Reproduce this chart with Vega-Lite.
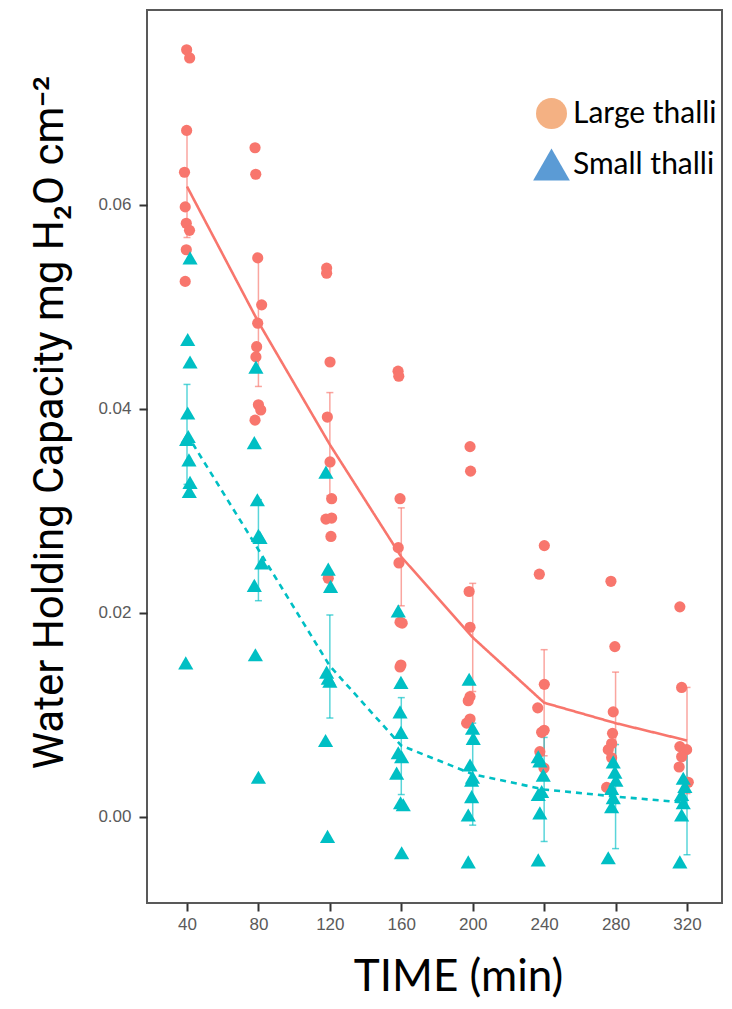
{
  "$schema": "https://vega.github.io/schema/vega-lite/v6.json",
  "width": 575,
  "height": 893,
  "autosize": "none",
  "padding": {"left": 147, "top": 10, "right": 10, "bottom": 106},
  "background": "white",
  "config": {
    "view": {"stroke": "#595959", "strokeWidth": 2},
    "axis": {
      "grid": false,
      "domain": false,
      "tickColor": "#333333",
      "tickSize": 8,
      "tickWidth": 2,
      "labelFont": "Liberation Sans",
      "labelFontSize": 17,
      "labelColor": "#5a5a5a",
      "titleFontWeight": "normal",
      "titleColor": "black"
    }
  },
  "datasets": {
    "pts": [
      {"g": "Large thalli", "t": 39.8, "v": 0.0752},
      {"g": "Large thalli", "t": 41.5, "v": 0.0744},
      {"g": "Large thalli", "t": 39.8, "v": 0.0673},
      {"g": "Large thalli", "t": 38.6, "v": 0.0632},
      {"g": "Large thalli", "t": 39.0, "v": 0.0598},
      {"g": "Large thalli", "t": 39.6, "v": 0.0582},
      {"g": "Large thalli", "t": 41.4, "v": 0.0575},
      {"g": "Large thalli", "t": 39.6, "v": 0.0556},
      {"g": "Large thalli", "t": 39.0, "v": 0.0525},
      {"g": "Large thalli", "t": 78.1, "v": 0.0656},
      {"g": "Large thalli", "t": 78.5, "v": 0.0630},
      {"g": "Large thalli", "t": 79.6, "v": 0.0548},
      {"g": "Large thalli", "t": 81.8, "v": 0.0502},
      {"g": "Large thalli", "t": 79.6, "v": 0.0484},
      {"g": "Large thalli", "t": 79.0, "v": 0.0461},
      {"g": "Large thalli", "t": 78.6, "v": 0.0451},
      {"g": "Large thalli", "t": 80.0, "v": 0.0404},
      {"g": "Large thalli", "t": 81.3, "v": 0.0399},
      {"g": "Large thalli", "t": 78.1, "v": 0.0389},
      {"g": "Large thalli", "t": 118.2, "v": 0.0538},
      {"g": "Large thalli", "t": 118.2, "v": 0.0533},
      {"g": "Large thalli", "t": 120.1, "v": 0.0446},
      {"g": "Large thalli", "t": 118.6, "v": 0.0392},
      {"g": "Large thalli", "t": 120.1, "v": 0.0348},
      {"g": "Large thalli", "t": 121.0, "v": 0.0312},
      {"g": "Large thalli", "t": 117.8, "v": 0.0292},
      {"g": "Large thalli", "t": 121.0, "v": 0.0293},
      {"g": "Large thalli", "t": 120.6, "v": 0.0275},
      {"g": "Large thalli", "t": 119.1, "v": 0.0234},
      {"g": "Large thalli", "t": 158.2, "v": 0.0437},
      {"g": "Large thalli", "t": 158.6, "v": 0.0432},
      {"g": "Large thalli", "t": 159.3, "v": 0.0312},
      {"g": "Large thalli", "t": 158.3, "v": 0.0264},
      {"g": "Large thalli", "t": 158.7, "v": 0.0249},
      {"g": "Large thalli", "t": 159.3, "v": 0.0191},
      {"g": "Large thalli", "t": 160.5, "v": 0.0190},
      {"g": "Large thalli", "t": 159.8, "v": 0.0149},
      {"g": "Large thalli", "t": 159.3, "v": 0.0147},
      {"g": "Large thalli", "t": 198.5, "v": 0.0363},
      {"g": "Large thalli", "t": 198.8, "v": 0.0339},
      {"g": "Large thalli", "t": 198.0, "v": 0.0221},
      {"g": "Large thalli", "t": 198.5, "v": 0.0186},
      {"g": "Large thalli", "t": 198.5, "v": 0.0118},
      {"g": "Large thalli", "t": 197.5, "v": 0.0114},
      {"g": "Large thalli", "t": 198.5, "v": 0.0096},
      {"g": "Large thalli", "t": 196.6, "v": 0.0092},
      {"g": "Large thalli", "t": 240.1, "v": 0.0266},
      {"g": "Large thalli", "t": 237.3, "v": 0.0238},
      {"g": "Large thalli", "t": 240.1, "v": 0.0130},
      {"g": "Large thalli", "t": 236.4, "v": 0.0107},
      {"g": "Large thalli", "t": 238.6, "v": 0.0083},
      {"g": "Large thalli", "t": 240.0, "v": 0.0085},
      {"g": "Large thalli", "t": 237.6, "v": 0.0064},
      {"g": "Large thalli", "t": 239.9, "v": 0.0048},
      {"g": "Large thalli", "t": 277.4, "v": 0.0231},
      {"g": "Large thalli", "t": 279.6, "v": 0.0167},
      {"g": "Large thalli", "t": 278.7, "v": 0.0103},
      {"g": "Large thalli", "t": 278.3, "v": 0.0082},
      {"g": "Large thalli", "t": 277.8, "v": 0.0072},
      {"g": "Large thalli", "t": 275.9, "v": 0.0066},
      {"g": "Large thalli", "t": 277.8, "v": 0.0058},
      {"g": "Large thalli", "t": 275.0, "v": 0.0029},
      {"g": "Large thalli", "t": 316.0, "v": 0.0206},
      {"g": "Large thalli", "t": 317.0, "v": 0.0127},
      {"g": "Large thalli", "t": 316.0, "v": 0.0069},
      {"g": "Large thalli", "t": 319.8, "v": 0.0066},
      {"g": "Large thalli", "t": 317.0, "v": 0.0059},
      {"g": "Large thalli", "t": 315.6, "v": 0.0049},
      {"g": "Large thalli", "t": 320.7, "v": 0.0034},
      {"g": "Small thalli", "t": 41.7, "v": 0.0548},
      {"g": "Small thalli", "t": 40.4, "v": 0.0468},
      {"g": "Small thalli", "t": 41.7, "v": 0.0446},
      {"g": "Small thalli", "t": 40.4, "v": 0.0396},
      {"g": "Small thalli", "t": 40.7, "v": 0.0373},
      {"g": "Small thalli", "t": 39.8, "v": 0.0370},
      {"g": "Small thalli", "t": 41.1, "v": 0.0350},
      {"g": "Small thalli", "t": 41.7, "v": 0.0328},
      {"g": "Small thalli", "t": 41.3, "v": 0.0319},
      {"g": "Small thalli", "t": 39.3, "v": 0.0151},
      {"g": "Small thalli", "t": 78.6, "v": 0.0441},
      {"g": "Small thalli", "t": 77.7, "v": 0.0367},
      {"g": "Small thalli", "t": 79.4, "v": 0.0311},
      {"g": "Small thalli", "t": 80.0, "v": 0.0276},
      {"g": "Small thalli", "t": 80.9, "v": 0.0274},
      {"g": "Small thalli", "t": 81.8, "v": 0.0249},
      {"g": "Small thalli", "t": 77.7, "v": 0.0227},
      {"g": "Small thalli", "t": 78.3, "v": 0.0159},
      {"g": "Small thalli", "t": 80.0, "v": 0.0039},
      {"g": "Small thalli", "t": 117.8, "v": 0.0338},
      {"g": "Small thalli", "t": 119.1, "v": 0.0243},
      {"g": "Small thalli", "t": 120.4, "v": 0.0226},
      {"g": "Small thalli", "t": 118.2, "v": 0.0142},
      {"g": "Small thalli", "t": 119.1, "v": 0.0136},
      {"g": "Small thalli", "t": 120.0, "v": 0.0133},
      {"g": "Small thalli", "t": 117.6, "v": 0.0075},
      {"g": "Small thalli", "t": 118.7, "v": -0.0019},
      {"g": "Small thalli", "t": 158.3, "v": 0.0202},
      {"g": "Small thalli", "t": 159.8, "v": 0.0132},
      {"g": "Small thalli", "t": 159.3, "v": 0.0103},
      {"g": "Small thalli", "t": 159.8, "v": 0.0083},
      {"g": "Small thalli", "t": 158.3, "v": 0.0063},
      {"g": "Small thalli", "t": 160.2, "v": 0.0059},
      {"g": "Small thalli", "t": 157.4, "v": 0.0043},
      {"g": "Small thalli", "t": 159.6, "v": 0.0014},
      {"g": "Small thalli", "t": 161.1, "v": 0.0012},
      {"g": "Small thalli", "t": 160.2, "v": -0.0035},
      {"g": "Small thalli", "t": 198.0, "v": 0.0135},
      {"g": "Small thalli", "t": 199.9, "v": 0.0087},
      {"g": "Small thalli", "t": 200.3, "v": 0.0077},
      {"g": "Small thalli", "t": 198.5, "v": 0.0051},
      {"g": "Small thalli", "t": 199.9, "v": 0.0039},
      {"g": "Small thalli", "t": 199.4, "v": 0.0036},
      {"g": "Small thalli", "t": 199.4, "v": 0.0020},
      {"g": "Small thalli", "t": 197.5, "v": 0.0002},
      {"g": "Small thalli", "t": 197.5, "v": -0.0044},
      {"g": "Small thalli", "t": 236.7, "v": 0.0059},
      {"g": "Small thalli", "t": 237.6, "v": 0.0055},
      {"g": "Small thalli", "t": 239.5, "v": 0.0041},
      {"g": "Small thalli", "t": 238.6, "v": 0.0025},
      {"g": "Small thalli", "t": 236.7, "v": 0.0022},
      {"g": "Small thalli", "t": 237.6, "v": 0.0004},
      {"g": "Small thalli", "t": 236.7, "v": -0.0042},
      {"g": "Small thalli", "t": 278.7, "v": 0.0054},
      {"g": "Small thalli", "t": 279.6, "v": 0.0044},
      {"g": "Small thalli", "t": 280.2, "v": 0.0036},
      {"g": "Small thalli", "t": 277.8, "v": 0.0028},
      {"g": "Small thalli", "t": 278.7, "v": 0.0019},
      {"g": "Small thalli", "t": 277.8, "v": 0.0010},
      {"g": "Small thalli", "t": 275.9, "v": -0.0040},
      {"g": "Small thalli", "t": 317.9, "v": 0.0038},
      {"g": "Small thalli", "t": 318.8, "v": 0.0030},
      {"g": "Small thalli", "t": 317.0, "v": 0.0022},
      {"g": "Small thalli", "t": 317.9, "v": 0.0014},
      {"g": "Small thalli", "t": 317.0, "v": 0.0002},
      {"g": "Small thalli", "t": 316.0, "v": -0.0044}
    ],
    "sum": [
      {"g": "Large thalli", "t": 40, "m": 0.0618, "lo": 0.0568, "hi": 0.0669},
      {"g": "Large thalli", "t": 80, "m": 0.0485, "lo": 0.0422, "hi": 0.0548},
      {"g": "Large thalli", "t": 120, "m": 0.0365, "lo": 0.0315, "hi": 0.0416},
      {"g": "Large thalli", "t": 160, "m": 0.0255, "lo": 0.0207, "hi": 0.0303},
      {"g": "Large thalli", "t": 200, "m": 0.0176, "lo": 0.0123, "hi": 0.0229},
      {"g": "Large thalli", "t": 240, "m": 0.0112, "lo": 0.0060, "hi": 0.0164},
      {"g": "Large thalli", "t": 280, "m": 0.0092, "lo": 0.0042, "hi": 0.0142},
      {"g": "Large thalli", "t": 320, "m": 0.0075, "lo": 0.0023, "hi": 0.0127},
      {"g": "Small thalli", "t": 40, "m": 0.0375, "lo": 0.0326, "hi": 0.0424},
      {"g": "Small thalli", "t": 80, "m": 0.0262, "lo": 0.0212, "hi": 0.0311},
      {"g": "Small thalli", "t": 120, "m": 0.0148, "lo": 0.0097, "hi": 0.0198},
      {"g": "Small thalli", "t": 160, "m": 0.0070, "lo": 0.0022, "hi": 0.0117},
      {"g": "Small thalli", "t": 200, "m": 0.0042, "lo": -0.0008, "hi": 0.0092},
      {"g": "Small thalli", "t": 240, "m": 0.0027, "lo": -0.0024, "hi": 0.0078},
      {"g": "Small thalli", "t": 280, "m": 0.0020, "lo": -0.0031, "hi": 0.0071},
      {"g": "Small thalli", "t": 320, "m": 0.0014, "lo": -0.0037, "hi": 0.0065}
    ]
  },
  "layer": [
    {
      "data": {"name": "sum"},
      "mark": {"type": "rule", "strokeWidth": 1.5, "opacity": 0.65},
      "encoding": {
        "x": {"field": "t", "type": "quantitative", "scale": {"domain": [17.6, 339.6], "nice": false, "zero": false},
          "axis": {"values": [40, 80, 120, 160, 200, 240, 280, 320], "labelPadding": 5, "title": "TIME (min)", "titleFont": "Lato", "titleFontSize": 44, "titleX": 311, "titleY": 87, "titleBaseline": "alphabetic"}},
        "y": {"field": "lo", "type": "quantitative", "scale": {"domain": [-0.00843, 0.0791], "nice": false, "zero": false},
          "axis": {"values": [0, 0.02, 0.04, 0.06], "format": ".2f", "labelPadding": 8, "title": "Water Holding Capacity mg H₂O cm⁻²", "titleFont": "Roboto", "titleFontSize": 42, "titleX": -85, "titleY": 412, "titleBaseline": "alphabetic", "titleAngle": 270}},
        "y2": {"field": "hi"},
        "stroke": {"field": "g", "type": "nominal", "legend": null,
          "scale": {"domain": ["Small thalli", "Large thalli"], "range": ["#00BFC4", "#F8766D"]}}
      }
    },
    {
      "data": {"name": "sum"},
      "mark": {"type": "point", "shape": "stroke", "size": 49, "strokeWidth": 1.5, "opacity": 0.65, "filled": false},
      "encoding": {
        "x": {"field": "t", "type": "quantitative"},
        "y": {"field": "lo", "type": "quantitative"},
        "stroke": {"field": "g", "type": "nominal", "legend": null}
      }
    },
    {
      "data": {"name": "sum"},
      "mark": {"type": "point", "shape": "stroke", "size": 49, "strokeWidth": 1.5, "opacity": 0.65, "filled": false},
      "encoding": {
        "x": {"field": "t", "type": "quantitative"},
        "y": {"field": "hi", "type": "quantitative"},
        "stroke": {"field": "g", "type": "nominal", "legend": null}
      }
    },
    {
      "data": {"name": "sum"},
      "mark": {"type": "line", "strokeWidth": 2.6},
      "encoding": {
        "x": {"field": "t", "type": "quantitative"},
        "y": {"field": "m", "type": "quantitative"},
        "stroke": {"field": "g", "type": "nominal", "legend": null},
        "strokeDash": {"field": "g", "type": "nominal", "legend": null,
          "scale": {"domain": ["Small thalli", "Large thalli"], "range": [[6, 5], [1, 0]]}}
      }
    },
    {
      "data": {"name": "pts"},
      "transform": [{"filter": "datum.g === 'Large thalli'"}],
      "mark": {"type": "point", "shape": "circle", "size": 125, "filled": true, "opacity": 1, "strokeWidth": 0, "fill": "#F8766D"},
      "encoding": {
        "x": {"field": "t", "type": "quantitative"},
        "y": {"field": "v", "type": "quantitative"}
      }
    },
    {
      "data": {"name": "pts"},
      "transform": [{"filter": "datum.g === 'Small thalli'"}],
      "mark": {"type": "point", "shape": "triangle-up", "size": 230, "filled": true, "opacity": 1, "strokeWidth": 0, "fill": "#00BFC4"},
      "encoding": {
        "x": {"field": "t", "type": "quantitative"},
        "y": {"field": "v", "type": "quantitative"}
      }
    },
    {
      "data": {"name": "sum"},
      "transform": [{"filter": "datum.t < 0"}],
      "mark": {"type": "point", "filled": true, "opacity": 1, "strokeWidth": 0},
      "encoding": {
        "x": {"field": "t", "type": "quantitative"},
        "y": {"field": "m", "type": "quantitative"},
        "color": {"field": "g", "type": "nominal",
          "scale": {"domain": ["Large thalli", "Small thalli"], "range": ["#F4B183", "#5B9BD5"]},
          "legend": {
            "title": null, "orient": "none", "legendX": 386, "legendY": 88,
            "labelFont": "Lato", "labelFontSize": 30, "labelColor": "black",
            "labelOffset": 3, "rowPadding": 17, "padding": 0,
            "symbolOpacity": 1, "symbolStrokeWidth": 0
          }},
        "shape": {"field": "g", "type": "nominal",
          "scale": {"domain": ["Large thalli", "Small thalli"], "range": ["circle", "triangle-up"]}},
        "size": {"field": "g", "type": "nominal",
          "scale": {"domain": ["Large thalli", "Small thalli"], "range": [961, 1350]}}
      }
    }
  ]
}
